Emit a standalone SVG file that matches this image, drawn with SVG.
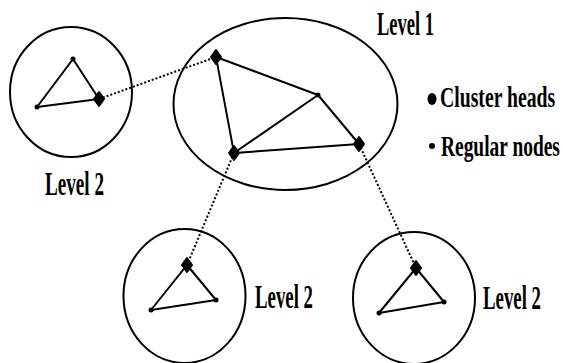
<svg xmlns="http://www.w3.org/2000/svg" width="563" height="363" viewBox="0 0 563 363">
<style>
.ring{fill:none;stroke:#000;stroke-width:2}
.edge{stroke:#000;stroke-width:2;fill:none}
.dot{stroke:#000;stroke-width:2;stroke-dasharray:2 2;fill:none}
.lbl{font-family:"Liberation Serif","Times New Roman",serif;font-weight:bold;fill:#000}
.lv{font-size:33px}
.lg{font-size:29px}
.head{fill:#000;stroke:#000;stroke-width:2;stroke-linejoin:round}
.reg{fill:#000}
</style>
<defs>
<path id="ch" d="M0,-7 L5,0 L0,7 L-5,0 Z"/>
</defs>
<rect width="563" height="363" fill="#fff"/>
<g id="connectors">
<line class="dot" x1="99" y1="99" x2="216" y2="57"/>
<line class="dot" x1="234" y1="153" x2="187" y2="265"/>
<line class="dot" x1="359" y1="144" x2="416" y2="268"/>
</g>
<g id="level1">
<ellipse class="ring" cx="285.5" cy="104" rx="112" ry="86"/>
<line class="edge" x1="216" y1="57" x2="318" y2="95"/>
<line class="edge" x1="216" y1="57" x2="234" y2="153"/>
<line class="edge" x1="234" y1="153" x2="318" y2="95"/>
<line class="edge" x1="234" y1="153" x2="359" y2="144"/>
<line class="edge" x1="318" y1="95" x2="359" y2="144"/>
<use href="#ch" class="head" x="216" y="57"/>
<use href="#ch" class="head" x="234" y="153"/>
<use href="#ch" class="head" x="359" y="144"/>
<circle class="reg" cx="318" cy="95" r="2.5"/>
<text class="lbl lv" transform="translate(377,35) scale(0.56,1)">Level 1</text>
</g>
<g id="cluster-left">
<ellipse class="ring" cx="71" cy="92" rx="61" ry="65"/>
<line class="edge" x1="73" y1="59" x2="37" y2="107"/>
<line class="edge" x1="73" y1="59" x2="99" y2="99"/>
<line class="edge" x1="37" y1="107" x2="99" y2="99"/>
<circle class="reg" cx="73" cy="59" r="2.5"/>
<circle class="reg" cx="37" cy="107" r="2.5"/>
<use href="#ch" class="head" x="99" y="99"/>
<text class="lbl lv" transform="translate(45,195) scale(0.58,1)">Level 2</text>
</g>
<g id="cluster-bottom-left">
<ellipse class="ring" cx="184.5" cy="296" rx="61" ry="67"/>
<line class="edge" x1="187" y1="265" x2="151" y2="310"/>
<line class="edge" x1="187" y1="265" x2="216" y2="300"/>
<line class="edge" x1="151" y1="310" x2="216" y2="300"/>
<circle class="reg" cx="151" cy="310" r="2.5"/>
<circle class="reg" cx="216" cy="300" r="2.5"/>
<use href="#ch" class="head" x="187" y="265"/>
<text class="lbl lv" transform="translate(255,308) scale(0.57,1)">Level 2</text>
</g>
<g id="cluster-bottom-right">
<ellipse class="ring" cx="414" cy="298" rx="61" ry="66"/>
<line class="edge" x1="416" y1="268" x2="379" y2="313"/>
<line class="edge" x1="416" y1="268" x2="444" y2="302"/>
<line class="edge" x1="379" y1="313" x2="444" y2="302"/>
<circle class="reg" cx="379" cy="313" r="2.5"/>
<circle class="reg" cx="444" cy="302" r="2.5"/>
<use href="#ch" class="head" x="416" y="268"/>
<text class="lbl lv" transform="translate(483,309) scale(0.57,1)">Level 2</text>
</g>
<g id="legend">
<ellipse class="reg" cx="432" cy="99" rx="4.5" ry="6"/>
<text class="lbl lg" transform="translate(440,107) scale(0.68,1)">Cluster heads</text>
<circle class="reg" cx="432" cy="146" r="3"/>
<text class="lbl lg" transform="translate(441,156) scale(0.67,1)">Regular nodes</text>
</g>
</svg>
